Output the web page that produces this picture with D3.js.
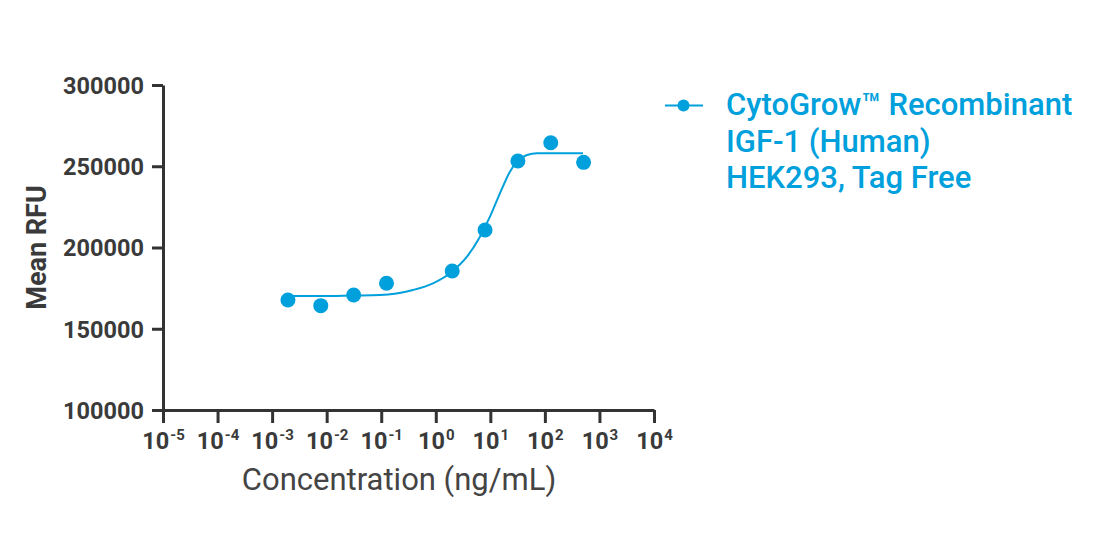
<!DOCTYPE html>
<html>
<head>
<meta charset="utf-8">
<script src="https://cdn.jsdelivr.net/npm/d3@7/dist/d3.min.js"></script>
<style>
  html, body { margin: 0; padding: 0; background: #fff; }
  svg { display: block; font-family: Roboto, "Noto Sans", sans-serif; }
</style>
</head>
<body>
<svg id="chart" width="1104" height="534"></svg>
<script>
// ---- Data ----
const concentrations = [0.00195, 0.0078, 0.03125, 0.125, 2, 8, 32, 128, 512]; // ng/mL
const meanRFU = [167700, 164200, 170800, 178000, 185500, 210800, 253200, 264500, 252400];

// fitted curve, sampled along the drawn line
const curveConc = [0.00195, 0.00755, 0.0303, 0.0949, 0.382, 0.889, 1.98, 3.73, 6.46, 9.85, 15.0, 22.9, 30.8, 46.9, 71.6, 124, 499];
const curveRFU  = [170150, 170150, 170460, 170770, 173850, 177970, 185110, 194340, 206650, 218960, 233360, 246650, 252800, 256930, 257970, 257970, 257970];

const yTicks = [100000, 150000, 200000, 250000, 300000];
const xTickExponents = [-5, -4, -3, -2, -1, 0, 1, 2, 3, 4];
const legendLines = ["CytoGrow™ Recombinant", "IGF-1 (Human)", "HEK293, Tag Free"];
const xTitle = "Concentration (ng/mL)";
const yTitle = "Mean RFU";

// ---- Layout ----
const blue = "#00A0DC";
const axisColor = "#333333";
const plotLeft = 163, plotRight = 654, plotTop = 85, plotBottom = 410;

const svg = d3.select("#chart");

const x = d3.scaleLog().domain([1e-5, 1e4]).range([plotLeft, plotRight]);
const y = d3.scaleLinear().domain([100000, 300000]).range([plotBottom, plotTop]);

// Y axis
const yAxis = svg.append("g")
  .attr("transform", `translate(${plotLeft},0)`)
  .call(d3.axisLeft(y).tickValues(yTicks).tickSize(11).tickSizeOuter(0).tickPadding(8).tickFormat(d3.format("d")));
yAxis.select(".domain").attr("stroke", axisColor).attr("stroke-width", 3);
yAxis.selectAll(".tick line").attr("stroke", axisColor).attr("stroke-width", 3);
yAxis.selectAll(".tick text")
  .attr("fill", "#3a3a3a").attr("font-size", 23.5).attr("font-weight", "bold")
  .attr("font-family", "Roboto, sans-serif").attr("dy", "0.36em");

// X axis
const xAxis = svg.append("g")
  .attr("transform", `translate(0,${plotBottom})`)
  .call(d3.axisBottom(x).tickValues(xTickExponents.map(e => Math.pow(10, e))).tickSize(13).tickSizeOuter(0).tickPadding(8).tickFormat(() => ""));
xAxis.select(".domain").attr("stroke", axisColor).attr("stroke-width", 3);
xAxis.selectAll(".tick line").attr("stroke", axisColor).attr("stroke-width", 3);
xAxis.selectAll(".tick text").each(function(d, i) {
  const t = d3.select(this);
  t.text(null)
    .attr("fill", "#3a3a3a").attr("font-weight", "bold").attr("font-family", "Roboto, sans-serif")
    .attr("font-size", 23.5)
    .attr("text-anchor", "middle").attr("y", 38.5).attr("dy", null).attr("dx", 0);
  t.append("tspan").style("font-size", "23.5px").text("10");
  t.append("tspan").style("font-size", "15px").attr("dy", -8.5).attr("dx", 1).text(String(xTickExponents[i]));
});

// Axis titles
svg.append("text")
  .attr("transform", `translate(46,${(plotTop + plotBottom) / 2}) rotate(-90)`)
  .attr("text-anchor", "middle")
  .attr("fill", "#3a3a3a").attr("font-size", 27).attr("font-weight", "bold")
  .text(yTitle);

svg.append("text")
  .attr("x", 399).attr("y", 490)
  .attr("text-anchor", "middle")
  .attr("fill", "#444444").attr("font-size", 31)
  .text(xTitle);

// Fitted curve
const line = d3.line()
  .x(d => x(d[0])).y(d => y(d[1]))
  .curve(d3.curveMonotoneX);
svg.append("path")
  .datum(curveConc.map((c, i) => [c, curveRFU[i]]))
  .attr("d", line)
  .attr("fill", "none").attr("stroke", blue).attr("stroke-width", 2);

// Points
svg.append("g").selectAll("circle")
  .data(concentrations.map((c, i) => [c, meanRFU[i]]))
  .join("circle")
  .attr("cx", d => x(d[0])).attr("cy", d => y(d[1])).attr("r", 7.5)
  .attr("fill", blue);

// Legend
const lg = svg.append("g").attr("transform", "translate(665,105.5)");
lg.append("line").attr("x1", 0).attr("x2", 38).attr("y1", 0).attr("y2", 0)
  .attr("stroke", blue).attr("stroke-width", 2);
lg.append("circle").attr("cx", 18.5).attr("cy", 0).attr("r", 6).attr("fill", blue);
const lt = lg.append("text").attr("fill", blue).attr("font-size", 31).attr("font-weight", 500);
legendLines.forEach((s, i) => {
  lt.append("tspan").attr("x", 61).attr("y", 9.5 + i * 36.7).text(s);
});
</script>
</body>
</html>
